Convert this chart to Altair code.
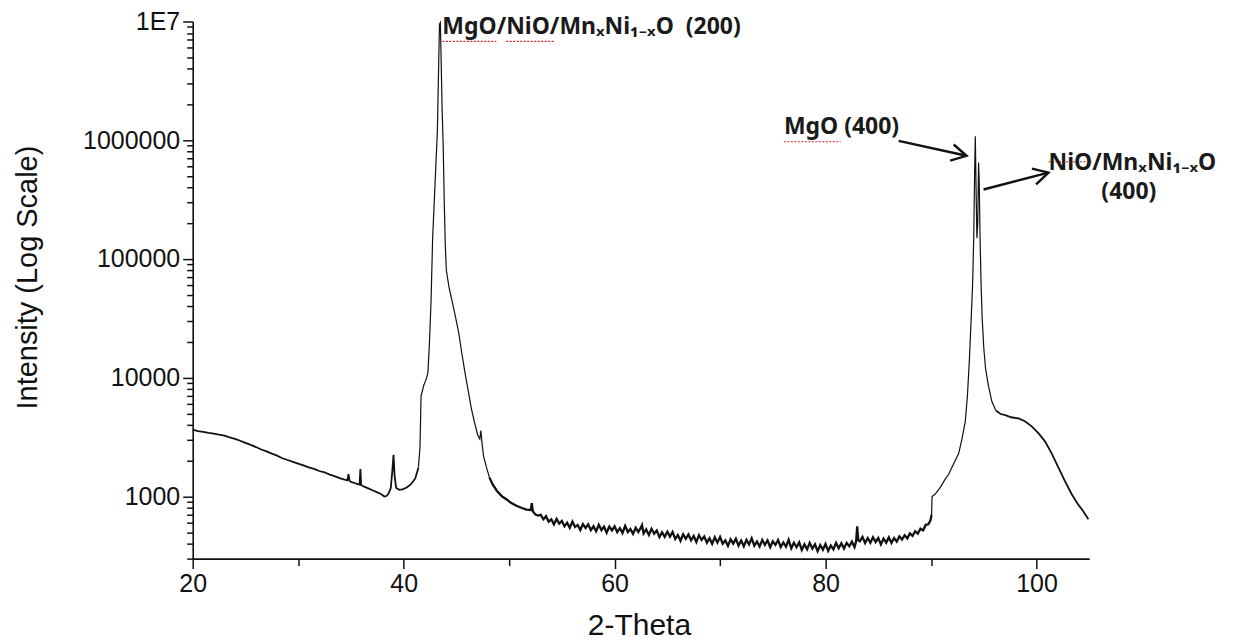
import altair as alt
import pandas as pd

# ---- XRD scan ----
theta = [
    20.0, 20.5, 21.0, 21.5, 22.0, 22.5, 23.0, 23.5, 24.0, 24.5, 25.0, 25.5, 26.0, 26.5, 27.0, 27.5,
    28.0, 28.5, 29.0, 29.5, 30.0, 30.5, 31.0, 31.5, 32.0, 32.5, 33.0, 33.5, 34.0, 34.4, 34.67, 34.77,
    34.87, 35.05, 35.35, 35.65, 35.82, 35.9, 35.97, 36.25, 36.65, 37.05, 37.45, 37.85, 38.17, 38.37,
    38.57, 38.78, 38.94, 39.04, 39.14, 39.29, 39.59, 39.89, 40.29, 40.69, 41.1, 41.4, 41.55, 41.65,
    41.9, 42.1, 42.3, 42.45, 42.6, 42.75, 42.9, 43.05, 43.2, 43.3, 43.4, 43.48, 43.55, 43.65, 43.75,
    43.85, 43.95, 44.05, 44.3, 44.6, 44.9, 45.22, 45.52, 45.82, 46.12, 46.42, 46.72, 47.02, 47.22,
    47.32, 47.42, 47.57, 47.82, 48.13, 48.43, 48.83, 49.34, 49.74, 50.14, 50.64, 51.15, 51.65, 52.05,
    52.15, 52.25, 52.5,
    52.75, 53.0, 53.25, 53.5, 53.75, 54.0, 54.25, 54.5, 54.75, 55.0, 55.25, 55.5, 55.75, 56.0, 56.25,
    56.5, 56.75, 57.0, 57.25, 57.5, 57.75, 58.0, 58.25, 58.5, 58.75, 59.0, 59.25, 59.5, 59.75, 60.0,
    60.25, 60.5, 60.75, 61.0, 61.25, 61.5, 61.75, 62.0, 62.25, 62.5, 62.6, 62.75, 63.0, 63.25, 63.5,
    63.75, 64.0, 64.25, 64.5, 64.75, 65.0, 65.25, 65.5, 65.75, 66.0, 66.25, 66.5, 66.75, 67.0, 67.25,
    67.5, 67.75, 68.0, 68.25, 68.5, 68.75, 69.0, 69.25, 69.5, 69.75, 70.0, 70.25, 70.5, 70.75, 71.0,
    71.25, 71.5, 71.75, 72.0, 72.25, 72.5, 72.75, 73.0, 73.25, 73.5, 73.75, 74.0, 74.25, 74.5, 74.75,
    75.0, 75.25, 75.5, 75.75, 76.0, 76.25, 76.5, 76.75, 77.0, 77.25, 77.5, 77.75, 78.0, 78.25, 78.5,
    78.75, 79.0, 79.25, 79.5, 79.75, 80.0, 80.25, 80.5, 80.75, 81.0, 81.25, 81.5, 81.75, 82.0, 82.25,
    82.5, 82.75, 82.9, 83.0, 83.1, 83.25, 83.5, 83.75, 84.0, 84.25, 84.5, 84.75, 85.0, 85.25, 85.5,
    85.75, 86.0, 86.25, 86.5, 86.75, 87.0, 87.25, 87.5, 87.75, 88.0, 88.25, 88.5, 88.75, 89.0, 89.25,
    89.5, 89.75, 89.95, 90.05, 90.1,
    90.4, 90.9, 91.3, 91.67, 92.1, 92.62, 92.95, 93.25, 93.45, 93.63, 93.8, 93.94, 94.05, 94.13, 94.2,
    94.27, 94.35, 94.43, 94.51, 94.57, 94.65, 94.75, 94.85, 95.0, 95.17, 95.45, 95.77, 96.15, 96.6,
    97.04, 97.6, 98.3, 98.9, 99.55, 100.2, 100.82, 101.45, 102.08, 102.7, 103.34, 103.9, 104.4, 104.92,
]
intensity = [
    3650, 3560, 3500, 3440, 3390, 3320, 3260, 3150, 3060, 2950, 2830, 2720, 2610, 2490, 2400, 2300,
    2210, 2100, 2030, 1960, 1890, 1830, 1760, 1710, 1640, 1600, 1530, 1480, 1420, 1390, 1370, 1540,
    1360, 1320, 1300, 1270, 1260, 1700, 1250, 1210, 1170, 1130, 1090, 1050, 1000, 1010,
    1060, 1180, 1700, 2250, 1500, 1180, 1140, 1150, 1190, 1270, 1420, 1750, 2600, 7000,
    8600, 9500, 11000, 20000, 45000, 150000, 300000, 600000, 1200000, 3500000, 9500000, 9800000, 5000000, 1800000, 900000,
    300000, 130000, 80000, 58000, 44000, 33000, 24000, 16000, 11000, 7800, 5500, 4200, 3300, 3050,
    3600, 2900, 2200, 1800, 1450, 1270, 1120, 1000, 950, 890, 840, 805, 775, 770,
    880, 750, 705,
    690, 700, 642, 683, 614, 643, 583, 647, 592, 622, 561, 603, 545, 615, 553,
    576, 522, 586, 543, 583, 520, 561, 509, 578, 522, 557, 497, 559, 519, 561,
    501, 542, 494, 566, 502, 532, 485, 546, 503, 549, 575, 488, 529, 475, 535,
    486, 517, 455, 500, 457, 506, 460, 503, 439, 473, 424, 481, 441, 479, 428,
    465, 414, 473, 431, 460, 409, 446, 400, 454, 409, 457, 400, 427, 384, 436,
    401, 441, 386, 426, 380, 432, 395, 444, 386, 418, 379, 431, 392, 428, 374,
    420, 391, 430, 376, 411, 378, 432, 366, 408, 374, 411, 355, 396, 359, 407,
    364, 396, 346, 390, 356, 398, 349, 387, 359, 407, 367, 404, 365, 407, 381,
    416, 375, 420, 560, 430, 420, 457, 406, 447, 408, 454, 414, 447, 395, 442,
    409, 453, 407, 447, 417, 462, 434, 473, 444, 489, 466, 510, 487, 536, 519,
    577, 583, 630, 700, 1000,
    1050, 1200, 1380, 1540, 1850, 2300, 3100, 4300, 7000, 13700, 30000, 60000, 150000, 500000, 1080000,
    400000, 150000, 200000, 650000, 450000, 150000, 60000, 32000, 18000, 12000, 8500, 6300, 5300, 4950,
    4850, 4650, 4550, 4300, 3900, 3400, 2900, 2300, 1750, 1350, 1045, 870, 760, 645,
]

# ---- axes ----
x_domain = [20, 105]
x_ticks = [20, 30, 40, 50, 60, 70, 80, 90, 100]
y_domain = [300, 10000000]
y_ticks = [m * 10 ** d for d in range(2, 7) for m in range(1, 10) if m * 10 ** d >= 300] + [10000000]

# ---- annotations ----
ann_text = ["MgO/NiO/MnₓNi₁₋ₓO\u00a0\u00a0(200)", "MgO (400)", "NiO/MnₓNi₁₋ₓO", "(400)"]
ann_theta = [43.67, 76.05, 101.14, 106.15]
ann_int = [7780000, 1130000, 565000, 323000]

arrow_id = ["a", "a", "b", "b"]
arrow_theta = [86.93, 93.37, 94.98, 101.14]
arrow_int = [988000, 740000, 385000, 533000]
head_theta = [93.37, 101.14]
head_int = [740000, 533000]
head_angle = [12.4, 345.3]

# spell-check underlines seen under some words of the labels
sq_theta = [43.67, 49.73, 76.05, 101.14]
sq_theta2 = [48.78, 54.27, 81.44, 105.21]
sq_int = [6800000, 6800000, 971000, 659000]

# stroke weight of the scan line along its length (flat noisy parts look heavier)
seg_edges = [20.0, 41.4, 48.13, 90.05, 96.15, 104.92]
seg_widths = [1.8, 1.2, 2.3, 1.2, 1.8]

df = pd.DataFrame({"theta": theta, "intensity": intensity})
parts = []
for i in range(len(seg_widths)):
    part = df[(df.theta >= seg_edges[i]) & (df.theta <= seg_edges[i + 1])].copy()
    part["seg"] = i
    part["w"] = seg_widths[i]
    parts.append(part)
scan = pd.concat(parts, ignore_index=True)

ann = pd.DataFrame({"theta": ann_theta, "intensity": ann_int, "label": ann_text})
arr = pd.DataFrame({"theta": arrow_theta, "intensity": arrow_int, "id": arrow_id})
heads = pd.DataFrame({"theta": head_theta, "intensity": head_int, "ang": head_angle})
sq = pd.DataFrame({"theta": sq_theta, "theta2": sq_theta2, "intensity": sq_int})

FONT = "Liberation Sans"
major_test = "indexof([1000,10000,100000,1000000,10000000], datum.value) >= 0"

x_enc = alt.X(
    "theta:Q",
    scale=alt.Scale(domain=x_domain, nice=False, zero=False),
    axis=alt.Axis(
        values=x_ticks,
        labelExpr="datum.value % 20 == 0 ? datum.label : ''",
        title="2-Theta",
        grid=False,
        domainColor="#111",
        domainWidth=1.6,
        tickColor="#111",
        tickWidth=1.5,
        tickSize={"condition": {"test": "datum.value % 20 == 0", "value": 10}, "value": 7},
        labelFont=FONT,
        labelFontSize=25,
        labelColor="#111",
        labelPadding=3,
        labelFlush=False,
        labelOverlap=False,
        titleFont=FONT,
        titleFontSize=30,
        titleFontWeight="normal",
        titleColor="#111",
        titleX=447,
        titleY=76,
        titleBaseline="alphabetic",
    ),
)
y_enc = alt.Y(
    "intensity:Q",
    scale=alt.Scale(type="log", domain=y_domain, nice=False),
    axis=alt.Axis(
        values=y_ticks,
        labelExpr="datum.value == 10000000 ? '1E7' : (indexof([1000,10000,100000,1000000], datum.value) >= 0 ? format(datum.value, 'd') : '')",
        title="Intensity (Log Scale)",
        grid=False,
        domainColor="#111",
        domainWidth=1.6,
        tickColor="#111",
        tickWidth=1.5,
        tickSize={"condition": {"test": major_test, "value": 10}, "value": 6},
        labelFont=FONT,
        labelFontSize=25,
        labelColor="#111",
        labelPadding=3,
        labelFlush=False,
        labelOverlap=False,
        titleFont=FONT,
        titleFontSize=29,
        titleFontWeight="normal",
        titleColor="#111",
        titleX=-165,
        titleY=256,
        titleBaseline="middle",
    ),
)

line = alt.Chart(scan).mark_line(color="#111").encode(
    x=x_enc, y=y_enc, detail="seg:N", strokeWidth=alt.StrokeWidth("w:Q", scale=None)
)

labels = alt.Chart(ann).mark_text(
    font="Noto Sans", fontWeight="bold", fontSize=23, align="left", baseline="alphabetic", color="#1a1a1a"
).encode(x=x_enc, y=y_enc, text="label:N")

squiggles = alt.Chart(sq).mark_rule(color="#d22", strokeWidth=1.2, strokeDash=[2, 1.5]).encode(
    x=x_enc, x2="theta2:Q", y=y_enc
)

arrows = alt.Chart(arr).mark_line(color="#111", strokeWidth=2.4).encode(x=x_enc, y=y_enc, detail="id:N")

arrow_heads = alt.Chart(heads).mark_point(
    shape="M-1,-0.55L0,0L-1,0.55", filled=False, color="#111", strokeWidth=2.4, size=900, opacity=1
).encode(x=x_enc, y=y_enc, angle=alt.Angle("ang:Q", scale=None))

chart = (
    alt.layer(line, arrows, arrow_heads, squiggles, labels)
    .properties(
        width=898,
        height=538,
        padding={"left": 185, "top": 13, "right": 136, "bottom": 84},
        autosize=alt.AutoSizeParams(type="none"),
        background="white",
    )
    .configure_view(stroke=None)
)

chart.save("out.html", embed_options={"renderer": "svg", "actions": False})
